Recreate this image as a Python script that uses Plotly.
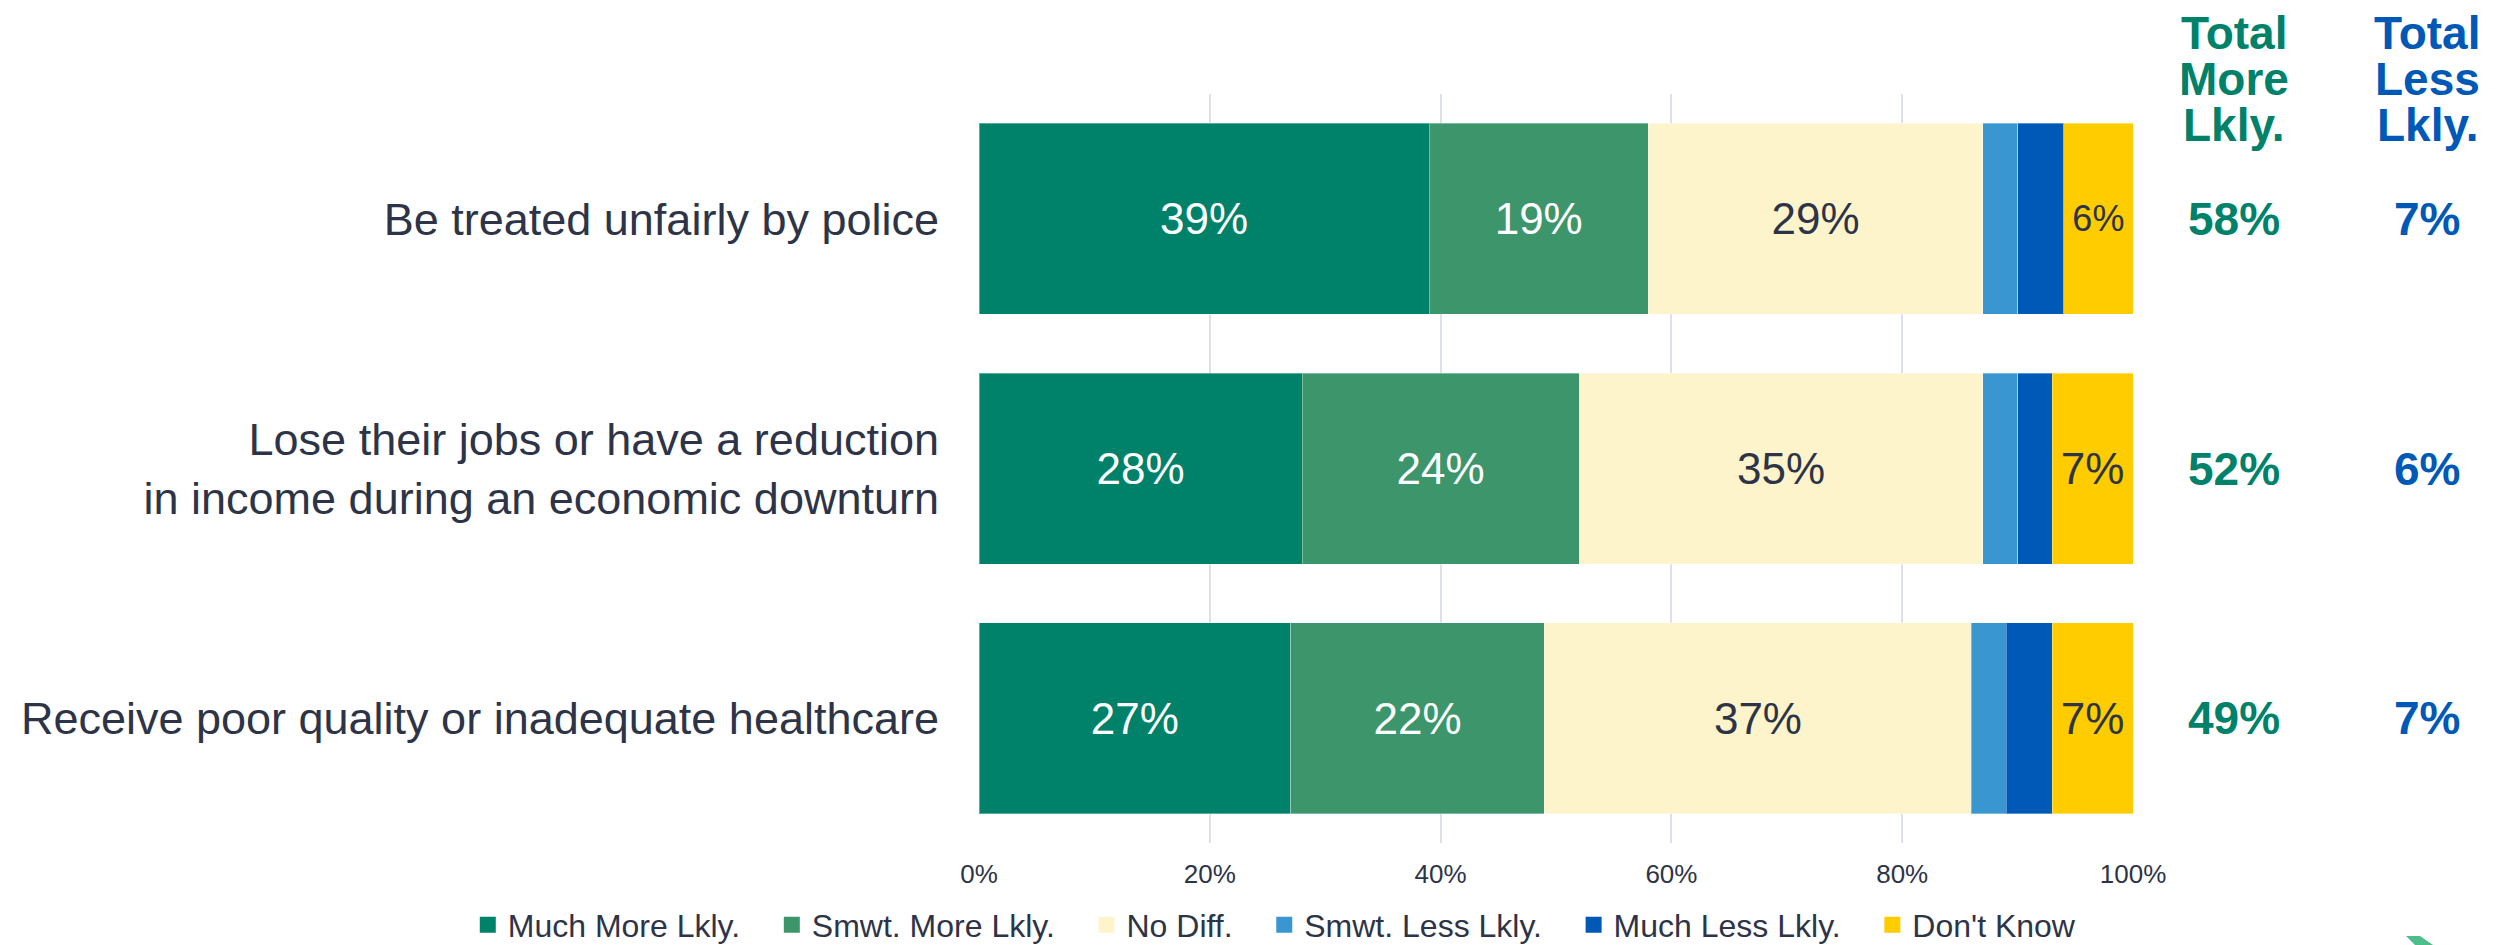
import plotly.graph_objects as go

# ---------------- data ----------------
categories = [
    "Be treated unfairly by police",
    "Lose their jobs or have a reduction<br>in income during an economic downturn",
    "Receive poor quality or inadequate healthcare",
]
series_names = ["Much More Lkly.", "Smwt. More Lkly.", "No Diff.",
                "Smwt. Less Lkly.", "Much Less Lkly.", "Don't Know"]
much_more = [39, 28, 27]
smwt_more = [19, 24, 22]
no_diff = [29, 35, 37]
smwt_less = [3, 3, 3]
much_less = [4, 3, 4]
dont_know = [6, 7, 7]

x_tick_vals = [0, 20, 40, 60, 80, 100]
x_tick_text = ["0%", "20%", "40%", "60%", "80%", "100%"]

header_more = ["Total", "More", "Lkly."]
header_less = ["Total", "Less", "Lkly."]

# ---------------- styles ----------------
FONT = "Liberation Sans, Arial, Helvetica, sans-serif"
DARK = "#2E3447"
colors = ["#00816A", "#3D956B", "#FEF4CC", "#3A96D0", "#0058B7", "#FFCC00"]
text_colors = ["white", "white", DARK, DARK, DARK, DARK]
GREEN_HEAD = "#00816A"
BLUE_HEAD = "#0058B7"
LEGEND_PAD = "\u00a0\u00a0\u00a0"

series_vals = [much_more, smwt_more, no_diff, smwt_less, much_less, dont_know]

fig = go.Figure()
for name, vals, col, tcol in zip(series_names, series_vals, colors, text_colors):
    texts = [f"{v}%" if v >= 5 else "" for v in vals]
    sizes = [36 if v < 7 else 44 for v in vals]
    fig.add_trace(go.Bar(
        name=name,
        y=categories,
        x=vals,
        orientation="h",
        marker=dict(color=col, line=dict(color="rgba(255,255,255,0.35)", width=1)),
        text=texts,
        textposition="inside",
        insidetextanchor="middle",
        textangle=0,
        textfont=dict(color=tcol, size=sizes, family=FONT),
        hoverinfo="skip",
        showlegend=False,
        legendgroup=name,
    ))

# legend entries (larger square swatches)
for name, col in zip(series_names, colors):
    fig.add_trace(go.Scatter(
        name=name + LEGEND_PAD,
        x=[None], y=[None],
        mode="markers",
        marker=dict(symbol="square", size=16, color=col),
        showlegend=True,
        legendgroup=name,
        hoverinfo="skip",
    ))

# totals on the right, computed from the series
total_more = [a + b for a, b in zip(much_more, smwt_more)]
total_less = [a + b for a, b in zip(smwt_less, much_less)]

X_MORE = 1.0875
X_LESS = 1.2548
for cat, tm, tl in zip(categories, total_more, total_less):
    fig.add_annotation(x=X_MORE, xref="paper", y=cat, yref="y", text=f"<b>{tm}%</b>",
                       showarrow=False, xanchor="center", yanchor="middle",
                       font=dict(size=46, color=GREEN_HEAD, family=FONT))
    fig.add_annotation(x=X_LESS, xref="paper", y=cat, yref="y", text=f"<b>{tl}%</b>",
                       showarrow=False, xanchor="center", yanchor="middle",
                       font=dict(size=46, color=BLUE_HEAD, family=FONT))

header_y = [1.082, 1.0195, 0.958]
for hy, hm, hl in zip(header_y, header_more, header_less):
    fig.add_annotation(x=X_MORE, xref="paper", y=hy, yref="paper", text=f"<b>{hm}</b>",
                       showarrow=False, xanchor="center", yanchor="middle",
                       font=dict(size=46, color=GREEN_HEAD, family=FONT))
    fig.add_annotation(x=X_LESS, xref="paper", y=hy, yref="paper", text=f"<b>{hl}</b>",
                       showarrow=False, xanchor="center", yanchor="middle",
                       font=dict(size=46, color=BLUE_HEAD, family=FONT))

# small cut-off logo fragment in bottom-right corner (decoration)
fig.add_shape(type="path", xref="paper", yref="paper",
              path="M 1.2366 -0.1241 L 1.2487 -0.1241 L 1.2600 -0.1362 L 1.2444 -0.1362 Z",
              fillcolor="#4DBE8A", line=dict(width=0), layer="above")

fig.update_layout(
    barmode="stack",
    bargap=0.235,
    width=2493, height=937,
    margin=dict(l=971, r=368, t=86, b=102, autoexpand=False),
    paper_bgcolor="white",
    plot_bgcolor="white",
    font=dict(family=FONT, color=DARK),
    showlegend=True,
    legend=dict(
        orientation="h",
        xref="paper", yref="paper",
        x=-0.443, xanchor="left",
        y=-0.1095, yanchor="middle",
        font=dict(size=32, color=DARK, family=FONT),
        traceorder="normal",
        itemsizing="trace",
        bgcolor="rgba(0,0,0,0)",
    ),
    xaxis=dict(
        range=[0, 100],
        tickvals=x_tick_vals,
        ticktext=x_tick_text,
        tickfont=dict(size=26, color=DARK, family=FONT),
        showgrid=True,
        gridcolor="#DCE0EA",
        gridwidth=1.5,
        zeroline=False,
        showline=False,
        ticks="outside",
        ticklen=8,
        tickcolor="rgba(0,0,0,0)",
        fixedrange=True,
    ),
    yaxis=dict(
        categoryorder="array",
        categoryarray=categories,
        range=[2.5, -0.5],
        tickfont=dict(size=45, color=DARK, family=FONT),
        showgrid=False,
        zeroline=False,
        showline=False,
        ticks="outside",
        ticklen=30,
        tickcolor="rgba(0,0,0,0)",
        fixedrange=True,
    ),
)

fig.write_html("out.html")
